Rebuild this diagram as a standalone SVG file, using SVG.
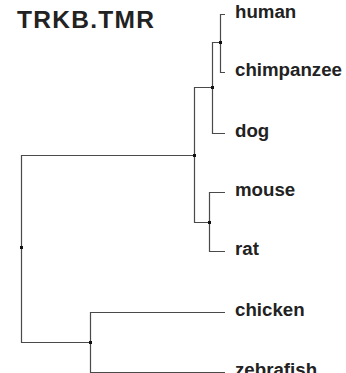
<svg xmlns="http://www.w3.org/2000/svg" width="346" height="373" viewBox="0 0 346 373">
<style>
.title{font-family:"Liberation Sans",Arial,sans-serif;font-weight:bold;font-size:24.5px;fill:#222}
.lbl{font-family:"Liberation Sans",Arial,sans-serif;font-weight:bold;font-size:18.7px;fill:#222}
.edge{fill:none;stroke:#4a4a4a;stroke-width:1.2}
.nd{fill:#111}
</style>
<rect width="346" height="373" fill="#fff"/>
<text class="title" x="17" y="28" textLength="137" lengthAdjust="spacing">TRKB.TMR</text>
<g id="connectors">
<path class="edge" d="M225,14.5H220.5V72.5H225"/>
<path class="edge" d="M220.5,42.5H212.5V133.5H225"/>
<path class="edge" d="M212.5,87.5H194.5V222.5H209.5"/>
<path class="edge" d="M225,192.5H209.5V251.5H225"/>
<path class="edge" d="M194.5,155.5H21.5V342.5H90.5"/>
<path class="edge" d="M225,312.5H90.5V372.5H225"/>
</g>
<g id="internal-nodes">
<rect class="nd" x="219" y="41" width="3" height="3"/>
<rect class="nd" x="211" y="86" width="3" height="3"/>
<rect class="nd" x="193" y="154" width="3" height="3"/>
<rect class="nd" x="208" y="221" width="3" height="3"/>
<rect class="nd" x="20" y="246" width="3" height="3"/>
<rect class="nd" x="89" y="341" width="3" height="3"/>
</g>
<g id="node-human"><text class="lbl" x="235" y="18">human</text></g>
<g id="node-chimpanzee"><text class="lbl" x="235" y="76">chimpanzee</text></g>
<g id="node-dog"><text class="lbl" x="235" y="137">dog</text></g>
<g id="node-mouse"><text class="lbl" x="235" y="196">mouse</text></g>
<g id="node-rat"><text class="lbl" x="235" y="255">rat</text></g>
<g id="node-chicken"><text class="lbl" x="235" y="316">chicken</text></g>
<g id="node-zebrafish"><text class="lbl" x="235" y="376">zebrafish</text></g>
</svg>
